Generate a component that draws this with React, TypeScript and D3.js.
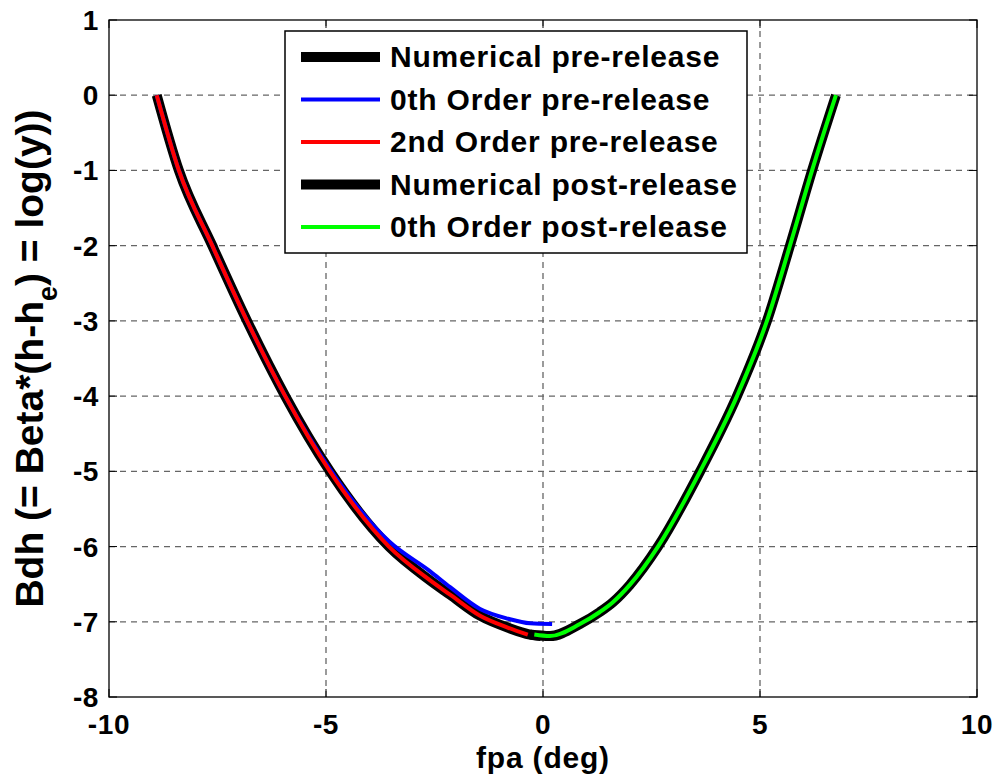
import React, { useEffect, useRef } from "react";
import * as d3 from "d3";

// curve readings (fpa in deg, Bdh)
const numPreX = [-8.9, -8.39, -7.62, -6.82, -5.94, -4.91, -3.55, -2.6, -2.14, -1.45, -0.8, -0.3, -0.05];
const numPreY = [0, -1, -2, -3, -4, -5, -6, -6.45, -6.64, -6.92, -7.08, -7.17, -7.19];

const zeroPreX = [-8.9, -8.39, -7.62, -6.82, -5.94, -4.91, -3.55, -2.6, -2.14, -1.45, -0.8, -0.3, 0.21];
const zeroPreY = [0, -1, -2, -3, -4, -4.97, -5.93, -6.33, -6.54, -6.83, -6.96, -7.02, -7.03];

const secondPreX = [-8.9, -8.39, -7.62, -6.82, -5.94, -4.91, -3.55, -2.6, -2.14, -1.45, -0.8, -0.35];
const secondPreY = [0, -1, -2, -3, -4, -5, -6, -6.45, -6.64, -6.92, -7.08, -7.17];

const numPostX = [-0.3, 0.16, 0.85, 1.31, 1.61, 2.0, 2.65, 3.62, 4.47, 5.16, 5.69, 6.2, 6.75];
const numPostY = [-7.17, -7.19, -7.03, -6.87, -6.74, -6.51, -6, -5, -4, -3, -2, -1, 0];

const zeroPostX = [-0.2, 0.16, 0.85, 1.31, 1.61, 2.0, 2.65, 3.62, 4.47, 5.16, 5.69, 6.2, 6.75];
const zeroPostY = [-7.17, -7.19, -7.03, -6.87, -6.74, -6.51, -6, -5, -4, -3, -2, -1, 0];

const seriesNames = [
  "Numerical pre-release",
  "0th Order pre-release",
  "2nd Order pre-release",
  "Numerical post-release",
  "0th Order post-release",
];
const seriesColors = ["#000000", "#0000ff", "#ff0000", "#000000", "#00ff00"];
const seriesWidths = [10, 4, 4, 10, 4];

const xTicks = [-10, -5, 0, 5, 10];
const yTicks = [1, 0, -1, -2, -3, -4, -5, -6, -7, -8];

const App = () => {
  const ref = useRef<SVGSVGElement | null>(null);

  useEffect(() => {
    drawChart();
  }, []);

  const drawChart = () => {
    const w = 999;
    const h = 780;
    const left = 109, right = 977, top = 20, bottom = 697;
    const font = "'Liberation Sans', Arial, sans-serif";

    const svg = d3.select(ref.current);
    svg.selectAll("*").remove();
    svg.attr("width", w).attr("height", h);

    svg.append("rect").attr("width", w).attr("height", h).attr("fill", "#fff");

    const x = d3.scaleLinear().domain([-10, 10]).range([left, right]);
    const y = d3.scaleLinear().domain([-8, 1]).range([bottom, top]);

    // grid
    const grid = svg.append("g")
      .attr("stroke", "#666")
      .attr("stroke-width", 1.3)
      .attr("stroke-dasharray", "6,5");
    xTicks.slice(1, -1).forEach((t) => {
      grid.append("line").attr("x1", x(t)).attr("x2", x(t)).attr("y1", top).attr("y2", bottom);
    });
    yTicks.slice(1, -1).forEach((t) => {
      grid.append("line").attr("x1", left).attr("x2", right).attr("y1", y(t)).attr("y2", y(t));
    });

    // ticks on all four sides, pointing inward
    const tl = 8;
    const ticks = svg.append("g").attr("stroke", "#000").attr("stroke-width", 1);
    xTicks.forEach((t) => {
      ticks.append("line").attr("x1", x(t)).attr("x2", x(t)).attr("y1", bottom).attr("y2", bottom - tl);
      ticks.append("line").attr("x1", x(t)).attr("x2", x(t)).attr("y1", top).attr("y2", top + tl);
    });
    yTicks.forEach((t) => {
      ticks.append("line").attr("x1", left).attr("x2", left + tl).attr("y1", y(t)).attr("y2", y(t));
      ticks.append("line").attr("x1", right).attr("x2", right - tl).attr("y1", y(t)).attr("y2", y(t));
    });

    // curves
    const line = d3.line<[number, number]>()
      .x((d) => x(d[0]))
      .y((d) => y(d[1]))
      .curve(d3.curveMonotoneX);

    const series: [number[], number[]][] = [
      [numPreX, numPreY],
      [zeroPreX, zeroPreY],
      [secondPreX, secondPreY],
      [numPostX, numPostY],
      [zeroPostX, zeroPostY],
    ];
    series.forEach(([xs, ys], i) => {
      svg.append("path")
        .attr("d", line(xs.map((v, j) => [v, ys[j]] as [number, number])))
        .attr("fill", "none")
        .attr("stroke", seriesColors[i])
        .attr("stroke-width", seriesWidths[i])
        .attr("stroke-linejoin", "round");
    });

    // axes box
    svg.append("rect")
      .attr("x", left).attr("y", top)
      .attr("width", right - left).attr("height", bottom - top)
      .attr("fill", "none").attr("stroke", "#000").attr("stroke-width", 1.3);

    // tick labels
    svg.append("g").selectAll("text").data(xTicks).enter().append("text")
      .attr("x", (d) => x(d)).attr("y", 734)
      .attr("text-anchor", "middle")
      .attr("font-family", font).attr("font-weight", "bold").attr("font-size", 28)
      .attr("letter-spacing", 0.6)
      .text((d) => d);
    svg.append("g").selectAll("text").data(yTicks).enter().append("text")
      .attr("x", 99).attr("y", (d) => y(d) + 10)
      .attr("text-anchor", "end")
      .attr("font-family", font).attr("font-weight", "bold").attr("font-size", 28)
      .attr("letter-spacing", 0.6)
      .text((d) => d);

    // axis labels
    svg.append("text")
      .attr("x", (left + right) / 2).attr("y", 768)
      .attr("text-anchor", "middle")
      .attr("font-family", font).attr("font-weight", "bold").attr("font-size", 30)
      .attr("letter-spacing", 0.8)
      .text("fpa (deg)");

    const yl = svg.append("text")
      .attr("transform", `translate(43,${(top + bottom) / 2}) rotate(-90)`)
      .attr("text-anchor", "middle")
      .attr("font-family", font).attr("font-weight", "bold").attr("font-size", 39);
    yl.append("tspan").text("Bdh (= Beta*(h-h");
    yl.append("tspan").attr("font-size", 27).attr("dy", 14).text("e");
    yl.append("tspan").attr("dy", -14).text(") = log(y))");

    // legend
    const lg = svg.append("g");
    lg.append("rect")
      .attr("x", 285).attr("y", 31).attr("width", 462).attr("height", 222)
      .attr("fill", "#fff").attr("stroke", "#000").attr("stroke-width", 1.5);
    seriesNames.forEach((name, i) => {
      const cy = 57 + i * 42.5;
      lg.append("line")
        .attr("x1", 301).attr("x2", 380).attr("y1", cy).attr("y2", cy)
        .attr("stroke", seriesColors[i]).attr("stroke-width", seriesWidths[i]);
      lg.append("text")
        .attr("x", 390).attr("y", cy + 10)
        .attr("font-family", font).attr("font-weight", "bold").attr("font-size", 30)
        .attr("letter-spacing", 0.8)
        .text(name);
    });
  };

  return (
    <div>
      <svg ref={ref} id="chart" style={{ display: "block", position: "fixed", left: 0, top: 0 }}></svg>
    </div>
  );
};

export default App;
